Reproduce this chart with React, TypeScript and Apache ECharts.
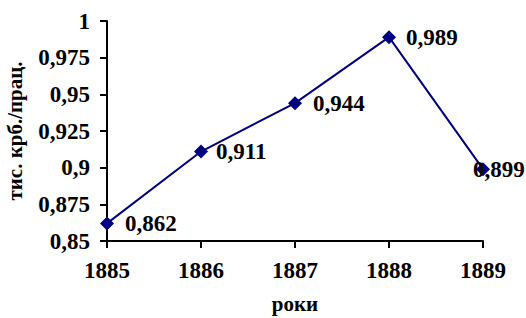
import React, { useEffect, useRef } from "react";
import * as echarts from "echarts";

const years = ["1885", "1886", "1887", "1888", "1889"];
const values = [0.862, 0.911, 0.944, 0.989, 0.899];
const yAxisTitle = "тис. крб./прац.";
const xAxisTitle = "роки";

const fmt = (v: number) => String(Number(v.toFixed(3))).replace(".", ",");

const labelDistance = [11, 8, 11, 10, -17];

export default function App() {
  const ref = useRef<HTMLDivElement>(null);
  useEffect(() => {
    if (!ref.current) return;
    const chart = echarts.init(ref.current, undefined, { renderer: "svg" });
    const font = "Liberation Serif";
    chart.setOption({
      animation: false,
      backgroundColor: "#ffffff",
      textStyle: { fontFamily: font },
      grid: { left: 107, right: 43, top: 21, bottom: 77, containLabel: false, outerBoundsMode: "none" },
      xAxis: {
        type: "category",
        data: years,
        boundaryGap: false,
        name: xAxisTitle,
        nameLocation: "middle",
        nameGap: 52,
        nameTextStyle: { fontFamily: font, fontWeight: "bold", fontSize: 21, color: "#000" },
        axisLine: { lineStyle: { color: "#000", width: 2 } },
        axisTick: { show: true, length: 7, alignWithLabel: true, lineStyle: { color: "#000", width: 2 } },
        axisLabel: { margin: 18, fontFamily: font, fontWeight: "bold", fontSize: 23, color: "#000" },
        splitLine: { show: false },
      },
      yAxis: {
        type: "value",
        min: 0.85,
        max: 1,
        interval: 0.025,
        name: yAxisTitle,
        nameLocation: "middle",
        nameGap: 82,
        nameRotate: 90,
        nameTextStyle: { fontFamily: font, fontWeight: "bold", fontSize: 21, color: "#000" },
        axisLine: { show: true, lineStyle: { color: "#000", width: 2 } },
        axisTick: { show: true, length: 7, lineStyle: { color: "#000", width: 2 } },
        axisLabel: {
          margin: 17,
          fontFamily: font,
          fontWeight: "bold",
          fontSize: 23,
          color: "#000",
          formatter: (v: number) => fmt(v),
        },
        splitLine: { show: false },
      },
      series: [
        {
          type: "line",
          data: values.map((v, i) => ({
            value: v,
            label: { distance: labelDistance[i] },
          })),
          symbol: "diamond",
          symbolSize: 14,
          itemStyle: { color: "#000080" },
          lineStyle: { color: "#000080", width: 2 },
          label: {
            show: true,
            position: "right",
            fontFamily: font,
            fontWeight: "bold",
            fontSize: 23,
            color: "#000",
            formatter: (p: any) => fmt(p.value),
          },
        },
      ],
    });
    return () => chart.dispose();
  }, []);
  return <div ref={ref} style={{ width: 526, height: 318, position: "absolute", left: 0, top: 0 }} />;
}
